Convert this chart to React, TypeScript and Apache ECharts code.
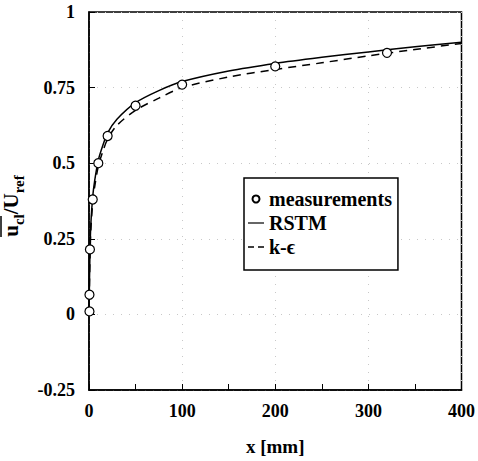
import React, { useEffect, useRef } from "react";
import * as echarts from "echarts";

const measX = [0.5, 0.5, 1, 4, 10, 20, 50, 100, 200, 320];
const measY = [0.01, 0.065, 0.215, 0.38, 0.5, 0.59, 0.69, 0.76, 0.82, 0.865];

const curveX = [0, 1, 2, 4, 6, 10, 15, 20, 30, 50, 75, 100, 150, 200, 250, 300, 350, 400];
const rstmY = [0, 0.2, 0.3, 0.39, 0.44, 0.51, 0.56, 0.6, 0.645, 0.7, 0.74, 0.77, 0.805, 0.83, 0.85, 0.868, 0.885, 0.9];
const keY = [0, 0.18, 0.28, 0.37, 0.42, 0.49, 0.54, 0.58, 0.625, 0.675, 0.715, 0.75, 0.785, 0.81, 0.832, 0.855, 0.876, 0.896];

const seriesNames = ["measurements", "RSTM", "k-ϵ"];

const FONT = "Liberation Serif";

export default function App() {
  const ref = useRef<HTMLDivElement>(null);
  useEffect(() => {
    if (!ref.current) return;
    const chart = echarts.init(ref.current, null, { renderer: "svg" });
    const zip = (xs: number[], ys: number[]) => xs.map((x, i) => [x, ys[i]]);
    chart.setOption({
      animation: false,
      backgroundColor: "#fff",
      textStyle: { fontFamily: FONT },
      grid: {
        left: 89,
        right: 13,
        top: 12,
        bottom: 69,
        show: true,
        borderColor: "#000",
        borderWidth: 1.5,
      },
      xAxis: {
        type: "value",
        min: 0,
        max: 400,
        interval: 100,
        axisLine: { onZero: false, lineStyle: { color: "#000", width: 1.5 } },
        axisTick: { inside: true, length: 6, lineStyle: { color: "#000" } },
        minorTick: { show: true, splitNumber: 2, length: 6, lineStyle: { color: "#000" } },
        splitLine: { show: true, lineStyle: { color: "#c8c8c8", type: [1, 7], width: 1 } },
        axisLabel: { color: "#000", fontFamily: FONT, fontWeight: "bold", fontSize: 18, margin: 12 },
        name: "x [mm]",
        nameLocation: "middle",
        nameGap: 47,
        nameTextStyle: { color: "#000", fontFamily: FONT, fontWeight: "bold", fontSize: 19 },
      },
      yAxis: {
        type: "value",
        min: -0.25,
        max: 1,
        interval: 0.25,
        axisLine: { onZero: false, lineStyle: { color: "#000", width: 1.5 } },
        axisTick: { inside: true, length: 6, lineStyle: { color: "#000" } },
        splitLine: { show: true, lineStyle: { color: "#c8c8c8", type: [1, 7], width: 1 } },
        axisLabel: { color: "#000", fontFamily: FONT, fontWeight: "bold", fontSize: 18, margin: 14 },
      },
      legend: {
        orient: "vertical",
        left: 244,
        top: 178,
        padding: [11, 6, 13, 4],
        itemGap: 4,
        itemWidth: 16,
        itemHeight: 7,
        itemTextGap: 5,
        symbolKeepAspect: true,
        borderColor: "#000",
        borderWidth: 1.5,
        backgroundColor: "#fff",
        data: [
          { name: seriesNames[0], icon: "circle" },
          { name: seriesNames[1], icon: "path://M0,0H16V1.2H0Z" },
          { name: seriesNames[2], icon: "path://M0,0H6V1.5H0Z M10,0H16V1.5H10Z" },
        ],
        textStyle: { color: "#000", fontFamily: FONT, fontWeight: "bold", fontSize: 20 },
      },
      graphic: [
        {
          type: "group",
          x: 13,
          y: 206,
          rotation: Math.PI / 2,
          children: [
            {
              type: "text",
              x: 0,
              y: 0,
              style: {
                text: "{m|u}{s|cl}{m|/U}{s|ref}",
                align: "center",
                verticalAlign: "middle",
                fill: "#000",
                rich: {
                  m: { fontFamily: FONT, fontWeight: "bold", fontSize: 21, verticalAlign: "bottom", padding: [0, 0, 5, 0] },
                  s: { fontFamily: FONT, fontWeight: "bold", fontSize: 15, verticalAlign: "bottom" },
                },
              },
            },
            {
              type: "line",
              shape: { x1: -31, y1: -12, x2: -10, y2: -12 },
              style: { stroke: "#000", lineWidth: 1.5 },
            },
          ],
        },
      ],
      series: [
        {
          name: seriesNames[1],
          type: "line",
          data: zip(curveX, rstmY),
          showSymbol: false,
          symbol: "none",
          smooth: 0.3,
          lineStyle: { color: "#000", width: 1.5, type: "solid" },
          itemStyle: { color: "#000" },
          z: 2,
        },
        {
          name: seriesNames[2],
          type: "line",
          data: zip(curveX, keY),
          showSymbol: false,
          symbol: "none",
          smooth: 0.3,
          lineStyle: { color: "#000", width: 1.5, type: [8, 6] },
          itemStyle: { color: "#000" },
          z: 2,
        },
        {
          name: seriesNames[0],
          type: "scatter",
          data: zip(measX, measY),
          symbol: "circle",
          symbolSize: 9,
          itemStyle: { color: "#fff", borderColor: "#000", borderWidth: 1.2, opacity: 1 },
          z: 3,
        },
      ],
    });
    return () => chart.dispose();
  }, []);
  return <div ref={ref} style={{ width: 478, height: 461, position: "absolute", left: 0, top: 0 }} />;
}
